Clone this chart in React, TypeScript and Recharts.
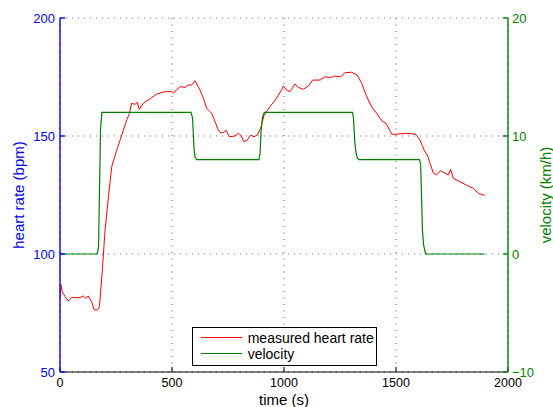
import React from 'react';
import { ComposedChart, Line, XAxis, YAxis, CartesianGrid, Legend, Label } from 'recharts';

const hrTime = [0, 4, 10, 22, 37, 52, 74, 89, 104, 115, 126, 141, 153, 168, 176, 183, 189, 201, 216, 231, 253, 271, 283, 298, 310, 320, 335, 345, 354, 372, 402, 432, 469, 498, 506, 536, 558, 573, 588, 603, 625, 640, 655, 677, 692, 707, 717, 729, 741, 756, 781, 796, 807, 821, 836, 851, 866, 881, 896, 911, 938, 967, 989, 997, 1012, 1027, 1049, 1064, 1086, 1109, 1128, 1161, 1183, 1205, 1228, 1253, 1272, 1302, 1327, 1347, 1366, 1391, 1414, 1436, 1455, 1470, 1481, 1503, 1548, 1585, 1592, 1607, 1625, 1640, 1652, 1667, 1681, 1699, 1719, 1734, 1744, 1756, 1786, 1815, 1845, 1868, 1890, 1897];
const hrValues = [81, 87, 84, 82, 80, 81.6, 81.5, 81.6, 82.2, 81.2, 82.2, 79.8, 76.3, 76.3, 77.7, 86, 93, 110, 124, 137, 144, 149, 152.5, 156.8, 159.6, 163.9, 163.4, 164.3, 161.3, 163.9, 165.7, 167.8, 168.8, 168.8, 168.3, 170.9, 170.6, 171.6, 171.6, 173.4, 169.5, 166, 161.7, 159.6, 156.1, 152.5, 151.4, 151.4, 152.5, 149.7, 150, 151.1, 150.4, 147.6, 148.3, 150.4, 149.7, 150.4, 153.3, 158.9, 162.5, 166, 169.5, 171.2, 169.5, 168.8, 172, 170.6, 169.8, 171.2, 173.7, 173.7, 175.1, 174.8, 175.4, 175.1, 176.8, 177, 175.8, 172.3, 167.4, 162.4, 159.6, 156.5, 155.4, 152.8, 150.7, 150.8, 151.1, 150.8, 150.4, 148.3, 144.1, 141.9, 138.4, 134.2, 133.5, 135.3, 134.2, 133.5, 135.9, 132.1, 130.6, 129.2, 127.8, 125.7, 125, 125];

const velTime = [0, 166, 172, 181, 187, 585, 592, 598, 603, 610, 888, 893, 898, 904, 912, 1305, 1310, 1316, 1322, 1328, 1335, 1605, 1610, 1614, 1618, 1623, 1632, 1897];
const velValues = [0, 0, 0.6, 10.6, 12, 12, 11.5, 9, 8.2, 8, 8, 8.5, 10.5, 11.6, 12, 12, 11.6, 9.5, 8.5, 8.1, 8, 8, 7.6, 5, 2, 0.8, 0, 0];

const xTicks = [0, 500, 1000, 1500, 2000];
const hrTicks = [50, 100, 150, 200];
const velTicks = [-10, 0, 10, 20];

const seriesNames = ['measured heart rate', 'velocity'];
const xLabel = 'time (s)';
const hrLabel = 'heart rate (bpm)';
const velLabel = 'velocity (km/h)';

const hrData = hrTime.map((t, i) => ({ t, hr: hrValues[i] }));
const velData = velTime.map((t, i) => ({ t, v: velValues[i] }));

const FONT = '"Liberation Sans", Arial, Helvetica, sans-serif';
const BLUE = '#0000ff';
const GREEN = '#008000';
const RED = '#ff0000';

const fmtMinus = (v: number) => (v < 0 ? '\u2212' + String(Math.abs(v)) : String(v));

const LeftLabel = (props: any) => {
  const vb = props.viewBox;
  const cy = vb.y + vb.height / 2;
  const x = 18;
  return (
    <text x={x} y={cy} transform={`rotate(-90 ${x} ${cy})`} textAnchor="middle" dominantBaseline="central" fill={BLUE} fontSize={15} fontFamily={FONT}>
      {hrLabel}
    </text>
  );
};

const RightLabel = (props: any) => {
  const vb = props.viewBox;
  const cy = vb.y + vb.height / 2;
  const x = 545;
  return (
    <text x={x} y={cy} transform={`rotate(-90 ${x} ${cy})`} textAnchor="middle" dominantBaseline="central" fill={GREEN} fontSize={15} fontFamily={FONT}>
      {velLabel}
    </text>
  );
};

const BottomLabel = (props: any) => {
  const vb = props.viewBox;
  const cx = vb.x + vb.width / 2;
  return (
    <text x={cx} y={404.5} textAnchor="middle" fill="#000" fontSize={15} fontFamily={FONT}>
      {xLabel}
    </text>
  );
};

const LegendBox = () => (
  <div style={{ width: 185, height: 39, boxSizing: 'border-box', border: '1px solid #000', background: '#fff' }}>
    <svg width={183} height={37} style={{ display: 'block' }}>
      <line x1={7.7} x2={49.3} y1={9.5} y2={9.5} stroke={RED} strokeWidth={1} />
      <text x={54.7} y={14.9} fontSize={14} fontFamily={FONT} fill="#000">{seriesNames[0]}</text>
      <line x1={7.7} x2={49.3} y1={25.5} y2={25.5} stroke={GREEN} strokeWidth={1} />
      <text x={54.7} y={30.9} fontSize={14} fontFamily={FONT} fill="#000">{seriesNames[1]}</text>
    </svg>
  </div>
);

export default function App() {
  return (
    <div style={{ position: 'fixed', left: 0, top: 0, width: 553, height: 407, background: '#fff' }}>
      <ComposedChart width={553} height={407} margin={{ top: 18, right: 0, bottom: 0, left: 0 }} style={{ fontFamily: FONT }}>
        <CartesianGrid horizontal={true} vertical={false} stroke="#6a6aff" strokeDasharray="1 5" xAxisId="bottom" yAxisId="hr" />
        <CartesianGrid horizontal={false} vertical={true} stroke="#555" strokeDasharray="1 5.5" xAxisId="bottom" yAxisId="hr" />
        <XAxis
          xAxisId="bottom"
          type="number"
          dataKey="t"
          domain={[0, 2000]}
          ticks={xTicks}
          allowDataOverflow
          height={35}
          stroke="#000"
          tickSize={-5}
          tickMargin={11.5}
          tick={{ fill: '#000', fontSize: 12.5, fontFamily: FONT }}
        >
          <Label content={BottomLabel} />
        </XAxis>
        <XAxis
          xAxisId="top"
          orientation="top"
          type="number"
          dataKey="t"
          domain={[0, 2000]}
          ticks={xTicks}
          allowDataOverflow
          height={0}
          stroke="#000"
          tickSize={-5}
          tickFormatter={() => ''}
        />
        <YAxis
          yAxisId="hr"
          orientation="left"
          type="number"
          domain={[50, 200]}
          ticks={hrTicks}
          allowDataOverflow
          width={60}
          stroke={BLUE}
          strokeWidth={1.4}
          tickSize={-5}
          tickMargin={10}
          tick={{ fill: BLUE, fontSize: 13, fontFamily: FONT }}
        >
          <Label content={LeftLabel} />
        </YAxis>
        <YAxis
          yAxisId="vel"
          orientation="right"
          type="number"
          domain={[-10, 20]}
          ticks={velTicks}
          allowDataOverflow
          width={45}
          stroke={GREEN}
          strokeWidth={1.4}
          tickSize={-5}
          tickMargin={9}
          tickFormatter={fmtMinus}
          tick={{ fill: GREEN, fontSize: 13, fontFamily: FONT }}
        >
          <Label content={RightLabel} />
        </YAxis>
        <Line
          data={hrData}
          xAxisId="bottom"
          yAxisId="hr"
          dataKey="hr"
          name={seriesNames[0]}
          type="linear"
          stroke={RED}
          strokeWidth={1}
          dot={false}
          activeDot={false}
          isAnimationActive={false}
        />
        <Line
          data={velData}
          xAxisId="bottom"
          yAxisId="vel"
          dataKey="v"
          name={seriesNames[1]}
          type="linear"
          stroke={GREEN}
          strokeWidth={1.2}
          dot={false}
          activeDot={false}
          isAnimationActive={false}
        />
        <Legend
          layout="horizontal"
          verticalAlign="middle"
          align="center"
          content={LegendBox}
          wrapperStyle={{ left: 192, top: 327, width: 185, height: 39 }}
        />
      </ComposedChart>
    </div>
  );
}
